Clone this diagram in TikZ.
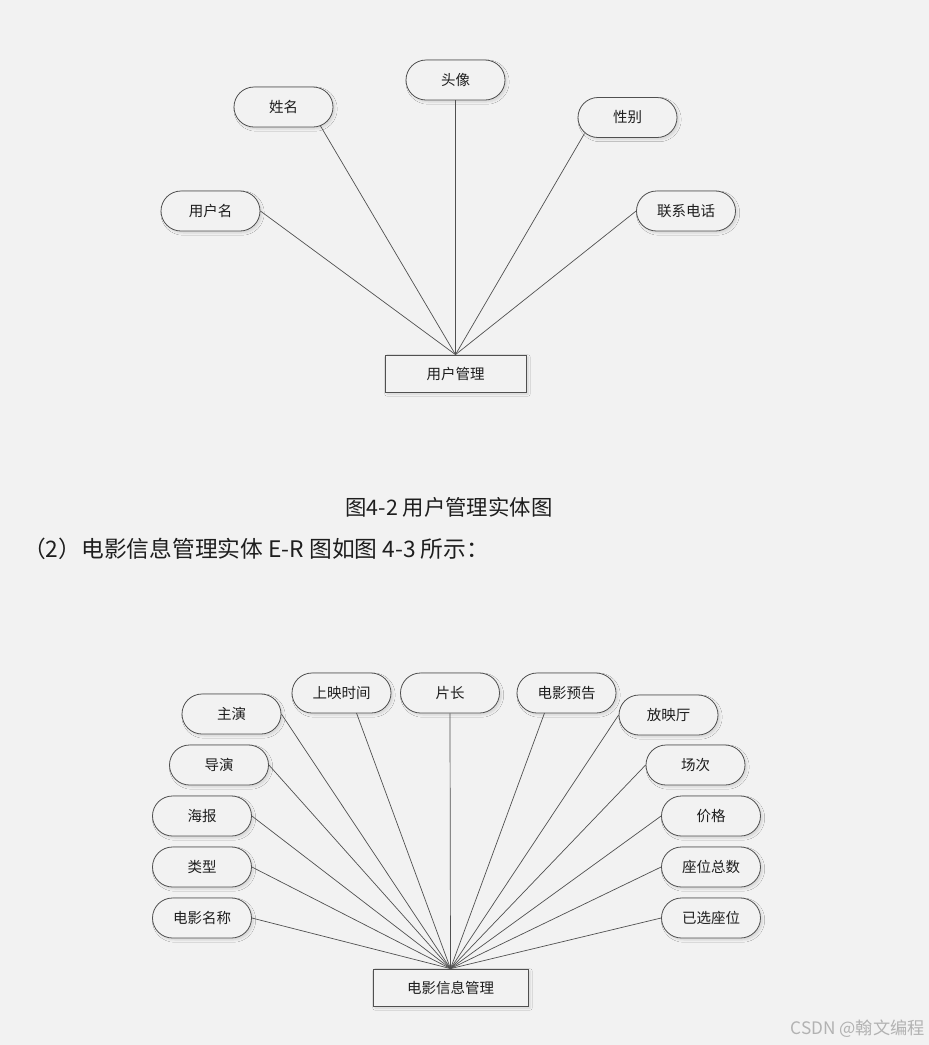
\documentclass[tikz,border=0pt]{standalone}
\usepackage{fontspec}
\setmainfont{Noto Sans CJK SC}
\usetikzlibrary{shapes.misc,shadows.blur,calc}
\definecolor{bg}{HTML}{F2F2F2}
\definecolor{ln}{HTML}{505050}
\definecolor{tx}{HTML}{1E1E1E}
\begin{document}
\begin{tikzpicture}[x=1pt,y=-1pt,
  attr/.style={rounded rectangle, draw=ln, fill=bg, line width=0.8pt,
    minimum width=99pt, minimum height=40pt, inner sep=0pt,
    font=\fontsize{14.5}{14.5}\selectfont, text=tx,
    blur shadow={shadow xshift=2pt, shadow yshift=-2pt, shadow blur steps=5, shadow opacity=12}},
  ent/.style={rectangle, draw=ln, fill=bg, line width=0.8pt,
    minimum height=37pt, inner sep=0pt,
    font=\fontsize{14.5}{14.5}\selectfont, text=tx,
    blur shadow={shadow xshift=2pt, shadow yshift=-2pt, shadow blur steps=5, shadow opacity=12}},
  conn/.style={draw=ln, line width=0.7pt},
  capt/.style={inner sep=0pt, text=tx}]
\useasboundingbox[fill=bg] (0,0) rectangle (929,1045);

% ---------- Figure 4-2 ----------
\node[ent, minimum width=141pt] (um) at (455.5,373.5) {用户管理};
\node[attr] (xm) at (283.5,107) {姓名};
\node[attr] (tx1) at (455.5,80) {头像};
\node[attr] (xb) at (627.5,117.5) {性别};
\node[attr] (yhm) at (210.5,211) {用户名};
\node[attr] (lxdh) at (686,211) {联系电话};

\draw[conn] (yhm.east) -- (um.north);
\draw[conn] ($(xm.center)+(37,19)$) -- (um.north);
\draw[conn] (tx1.south) -- (um.north);
\draw[conn] ($(xb.center)+(-43,16)$) -- (um.north);
\draw[conn] (lxdh.west) -- (um.north);

\node[capt] (cap) at (449,507) {\resizebox{207pt}{!}{图4-2 用户管理实体图}};
\node[capt, anchor=west] (para) at (23,549) {\resizebox{466pt}{!}{（2）电影信息管理实体 E-R 图如图 4-3 所示：}};

% ---------- Figure 4-3 ----------
\node[ent, minimum width=155pt] (dy) at (450.5,987.5) {电影信息管理};
\node[attr] (zy) at (231.5,714) {主演};
\node[attr] (sysj) at (341.5,693) {上映时间};
\node[attr] (pc) at (450,693) {片长};
\node[attr] (dyyg) at (566.5,693) {电影预告};
\node[attr] (fyt) at (668.5,715) {放映厅};
\node[attr] (dao) at (219,765) {导演};
\node[attr] (cc) at (695.5,765) {场次};
\node[attr] (hb) at (202,816) {海报};
\node[attr] (jg) at (711,816) {价格};
\node[attr] (lx) at (202,867) {类型};
\node[attr] (zwzs) at (711,867) {座位总数};
\node[attr] (dymc) at (202,918) {电影名称};
\node[attr] (yxzw) at (711,918) {已选座位};

\draw[conn] (zy.east) -- (dy.north);
\draw[conn] ($(sysj.center)+(15,20)$) -- (dy.north);
\draw[conn] (pc.south) -- (dy.north);
\draw[conn] ($(dyyg.center)+(-22,20)$) -- (dy.north);
\draw[conn] (fyt.west) -- (dy.north);
\draw[conn] (dao.east) -- (dy.north);
\draw[conn] (cc.west) -- (dy.north);
\draw[conn] (hb.east) -- (dy.north);
\draw[conn] (jg.west) -- (dy.north);
\draw[conn] (lx.east) -- (dy.north);
\draw[conn] (zwzs.west) -- (dy.north);
\draw[conn] (dymc.east) -- (dy.north);
\draw[conn] (yxzw.west) -- (dy.north);

\node[capt, anchor=east, text=black!30] (wm) at (925,1029) {\resizebox{134pt}{!}{CSDN @翰文编程}};
\end{tikzpicture}
\end{document}
